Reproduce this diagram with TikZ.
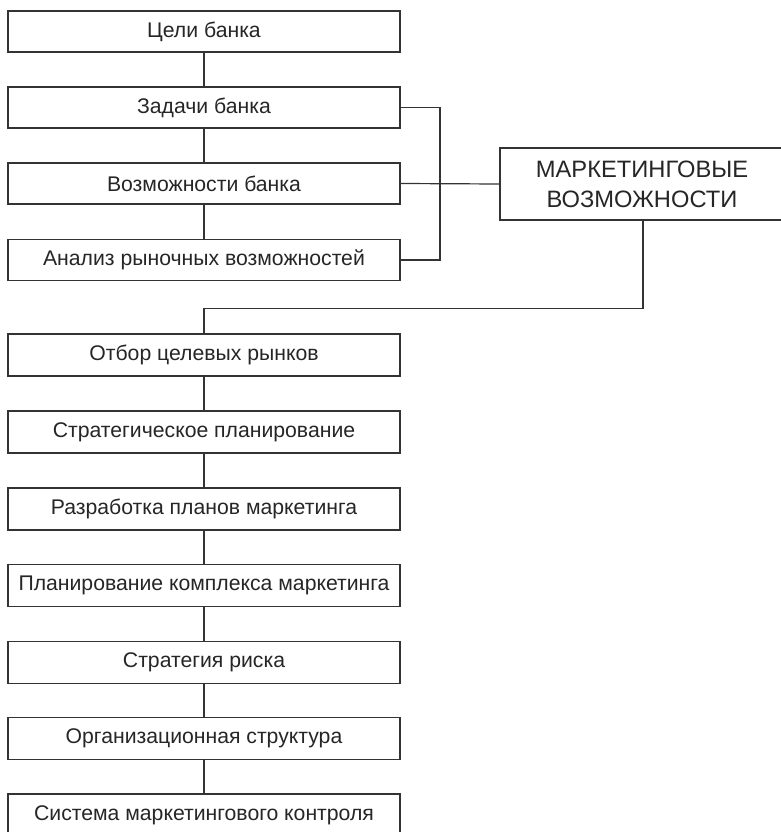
\documentclass[tikz,border=0pt]{standalone}
\usepackage{fontspec}
\setmainfont{Liberation Sans}
\begin{document}
\begin{tikzpicture}[x=1pt,y=-1pt,
  ln/.style={draw=black!80, line width=1.2pt},
  box/.style={ln, fill=white, minimum width=392pt, minimum height=41pt, inner sep=0pt, font=\fontsize{21.2}{24}\selectfont, text=black!85},
  bigbox/.style={ln, fill=white, minimum width=284pt, minimum height=72pt, inner sep=0pt, align=center, font=\fontsize{23.7}{30}\selectfont, text=black!85}]
\useasboundingbox (0,0) rectangle (781,832);
\node[box] (b1) at (204,31.5) {Цели банка};
\node[box] (b2) at (204,107.5) {Задачи банка};
\node[box] (b3) at (204,183.5) {Возможности банка};
\node[box] (b4) at (204,260) {Анализ рыночных возможностей};
\node[box, minimum height=42pt] (b5) at (204,355) {Отбор целевых рынков};
\node[box, minimum height=42pt] (b6) at (204,432) {Стратегическое планирование};
\node[box, minimum height=42pt] (b7) at (204,509) {Разработка планов маркетинга};
\node[box, minimum height=42pt] (b8) at (204,585.5) {Планирование комплекса маркетинга};
\node[box, minimum height=42pt] (b9) at (204,662.5) {Стратегия риска};
\node[box, minimum height=42pt] (b10) at (204,738.5) {Организационная структура};
\node[box, minimum height=42pt] (b11) at (204,815) {Система маркетингового контроля};
\node[bigbox] (m) at (642,184) {МАРКЕТИНГОВЫЕ\\ВОЗМОЖНОСТИ};
\coordinate (bx) at (440,0);
\coordinate (mx) at (643,0);
\coordinate (hy) at (0,308.5);
\draw[ln] (b1) -- (b2);
\draw[ln] (b2) -- (b3);
\draw[ln] (b3) -- (b4);
\draw[ln] (b5) -- (b6);
\draw[ln] (b6) -- (b7);
\draw[ln] (b7) -- (b8);
\draw[ln] (b8) -- (b9);
\draw[ln] (b9) -- (b10);
\draw[ln] (b10) -- (b11);
\draw[ln] (b2.east) -- (bx |- b2.east) -- (bx |- b4.east) -- (b4.east);
\draw[ln] (b3.east) -- (m.west);
\draw[ln] (mx |- m.south) -- (mx |- hy) -- (b5.north |- hy) -- (b5.north);
\end{tikzpicture}
\end{document}
